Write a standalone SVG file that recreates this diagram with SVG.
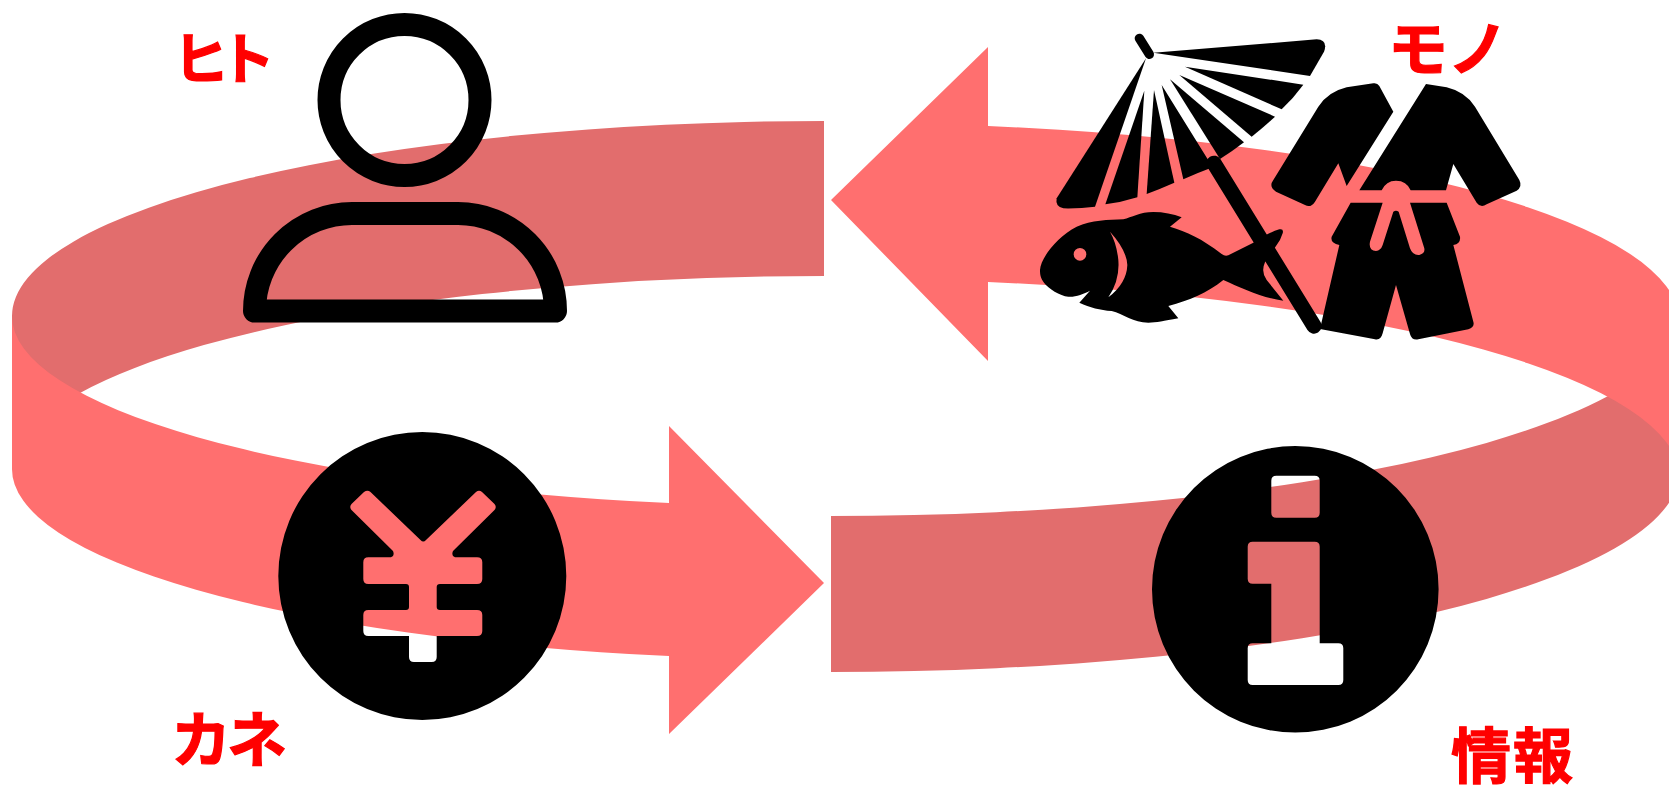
<svg xmlns="http://www.w3.org/2000/svg" width="1669" height="788" viewBox="0 0 1669 788">
<style>
.dark{fill:#e26d6d}
.light{fill:#ff6f6f}
.icon{fill:#000}
.outline{fill:none;stroke:#000;stroke-width:23;stroke-linejoin:round}
.label{fill:#f00;stroke:#f00;stroke-width:1.2;font-family:"Noto Sans CJK JP","Noto Sans CJK SC",sans-serif;font-weight:700}
</style>
<rect width="1669" height="788" fill="#fff"/>
<g id="connectors">
<path class="dark" d="M824,121 A812,195 0 0 0 12,316 L12,400 L70,400 L80,392.9 A812,195 0 0 1 824,276 Z"/>
<path class="dark" d="M831,516 A848,200 0 0 0 1679,316 L1679,472 A848,200 0 0 1 831,672 Z"/>
<path class="light" d="M12,316 A812,190.5 0 0 0 669,503 L669,426 L824,583 L669,734 L669,656 A812,190.5 0 0 1 12,468 Z"/>
<path class="light" d="M988,126 A836,197.5 0 0 1 1679,320.5 L1679,476.5 A836,197.5 0 0 0 988,282 L988,361 L831,200 L988,47 Z"/>
</g>
<g id="node-hito">
<circle class="outline" cx="404.5" cy="100" r="75.5"/>
<path class="outline" d="M254.5,311 A97.5,97.5 0 0 1 352,213.5 H458 A97.5,97.5 0 0 1 555.5,311 Z"/>
<text class="label" x="173" y="78.5" font-size="56" letter-spacing="-10">ヒト</text>
</g>
<g id="node-mono">
<g id="umbrella" transform="translate(1020,10) scale(.33333)">
<line x1="358" y1="85" x2="388" y2="133" stroke="#000" stroke-width="28" stroke-linecap="round"/>
<path class="icon" d="M400,128 L890,88 Q925,90 912,125 L870,198 Z"/>
<path class="icon" d="M495,170 L850,224 Q820,265 785,298 Z"/>
<path class="icon" d="M478,195 L765,320 Q730,352 695,380 Z"/>
<path class="icon" d="M450,208 L672,397 Q640,422 600,447 Z"/>
<path class="icon" d="M425,225 L578,472 Q535,488 490,508 Z"/>
<path class="icon" d="M402,240 L463,518 Q420,537 380,552 Z"/>
<path class="icon" d="M373,242 L352,562 Q305,577 256,583 Z"/>
<path class="icon" d="M378,145 L225,590 Q180,596 130,595 Q105,590 110,565 Z"/>
<line x1="582" y1="460" x2="882" y2="948" stroke="#000" stroke-width="46" stroke-linecap="round"/>
</g>
<path id="fish" class="icon" fill-rule="evenodd" transform="translate(1020,10) scale(.33333)" d="M60,780 C62,745 110,680 170,650 C215,630 265,630 310,628 C335,622 360,606 400,606 C430,606 460,612 485,622 L450,650 C500,665 545,685 605,732 Q615,740 625,736 L700,698 Q745,668 778,658 Q792,655 788,670 Q782,690 770,705 L735,757 Q722,785 740,810 L790,872 C730,865 665,835 610,810 C560,850 510,870 445,888 L475,925 C430,933 410,938 385,938 C340,938 310,912 275,903 C240,900 210,893 178,878 L210,842 C190,852 165,862 145,860 C120,858 85,835 72,818 C62,805 60,795 60,780 Z M199,733 A19,19 0 1 0 161,733 A19,19 0 1 0 199,733 Z M270,665 Q320,720 322,765 Q320,820 265,862 Q300,810 295,750 Q290,700 270,665 Z"/>
<g id="kimono" transform="translate(1020,10) scale(.33333)">
<path class="icon" d="M1060,220 Q1072,218 1078,228 L1120,305 L980,528 L955,460 L885,575 Q872,595 855,585 L768,545 Q745,530 760,510 L895,290 Q925,245 980,232 Z"/>
<path class="icon" d="M1218,222 L1280,232 Q1335,245 1365,290 L1498,510 Q1508,530 1490,542 L1400,583 Q1382,595 1370,578 L1300,462 L1278,541 L1172,541 Q1160,512 1128,512 Q1098,512 1085,541 L1018,541 Z"/>
<path class="icon" d="M992,578 L1088,578 L1050,695 Q1045,722 1068,723 Q1082,722 1088,705 L1120,605 Q1128,600 1136,605 L1170,715 Q1178,737 1198,735 Q1218,730 1212,712 L1170,578 L1280,578 L1320,680 Q1323,700 1300,705 L1360,935 Q1365,952 1345,958 L1195,988 Q1175,992 1170,972 L1128,825 L1088,970 Q1082,992 1065,988 L900,957 L958,705 Q930,700 935,680 Z"/>
</g>
<text class="label" x="1388" y="71" font-size="60">モノ</text>
</g>
<g id="node-kane">
<path class="icon" fill-rule="evenodd" d="M566.3,576 A144,144 0 1 0 278.3,576 A144,144 0 1 0 566.3,576 Z M364,492 Q367.5,489.5 370.5,492 L420.5,540 Q423.3,543 426,540 L476,492 Q479,489.5 482,492 L494.5,504 Q497,507 494.5,510 L453,551 Q451,556 455,557.3 L477,557.3 Q482.3,557.3 482.3,562.3 L482.3,579 Q482.3,584 477,584 L440,584 Q436.7,584 436.7,587 L436.7,607 Q436.7,610 440,610 L477,610 Q482.3,610 482.3,615 L482.3,631 Q482.3,636 477,636 L436.7,636 L436.7,657 Q436.7,662 431.7,662 L414,662 Q409,662 409,657 L409,636 L368.3,636 Q363.3,636 363.3,631 L363.3,615 Q363.3,610 368.3,610 L406,610 Q409,610 409,607 L409,587 Q409,584 406,584 L368.3,584 Q363.3,584 363.3,579 L363.3,562.3 Q363.3,557.3 368.3,557.3 L391,557.3 Q395,556 393,551 L351.5,510 Q349,507 351.5,504 Z"/>
<text class="label" x="171" y="762" font-size="60" letter-spacing="-4">カネ</text>
</g>
<g id="node-joho">
<path class="icon" fill-rule="evenodd" d="M1438.6,589.3 A143.3,143.3 0 1 0 1152,589.3 A143.3,143.3 0 1 0 1438.6,589.3 Z M1276.3,475.7 H1314.7 Q1319.7,475.7 1319.7,480.7 V512.7 Q1319.7,517.7 1314.7,517.7 H1276.3 Q1271.3,517.7 1271.3,512.7 V480.7 Q1271.3,475.7 1276.3,475.7 Z M1252.7,541.7 H1314.7 Q1319.7,541.7 1319.7,546.7 V643.3 H1338.3 Q1343.3,643.3 1343.3,648.3 V680 Q1343.3,685 1338.3,685 H1252.7 Q1247.7,685 1247.7,680 V648.3 Q1247.7,643.3 1252.7,643.3 H1271.3 V583.7 H1252.7 Q1247.7,583.7 1247.7,578.7 V546.7 Q1247.7,541.7 1252.7,541.7 Z"/>
<text class="label" x="1451" y="778" font-size="60" letter-spacing="2">情報</text>
</g>
</svg>
